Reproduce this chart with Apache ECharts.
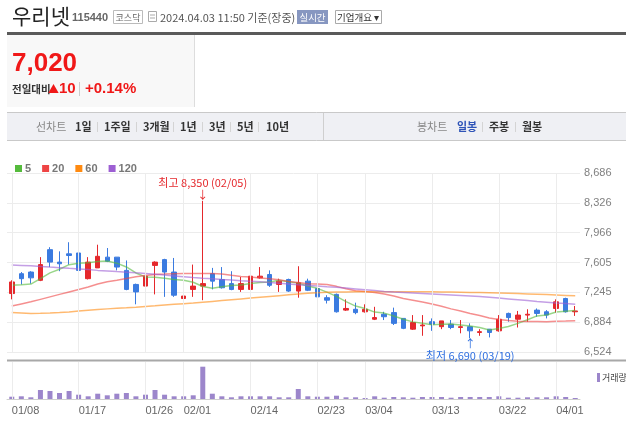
<!DOCTYPE html>
<html><head><meta charset="utf-8">
<script src="https://cdn.jsdelivr.net/npm/echarts@6.0.0/dist/echarts.min.js"></script>
<style>html,body{margin:0;padding:0;background:#fff}#c{width:626px;height:423px}</style>
</head><body><div id="c"></div>
<script>
const dates = ['01/08','01/09','01/10','01/11','01/12','01/15','01/16','01/17','01/18','01/19','01/22','01/23','01/24','01/25','01/26','01/29','01/30','01/31','02/01','02/02','02/05','02/06','02/07','02/08','02/13','02/14','02/15','02/16','02/19','02/20','02/21','02/22','02/23','02/26','02/27','02/28','02/29','03/04','03/05','03/06','03/07','03/08','03/11','03/12','03/13','03/14','03/15','03/18','03/19','03/20','03/21','03/22','03/25','03/26','03/27','03/28','03/29','04/01','04/02','04/03'];
const openP  = [7230,7470,7490,7390,7760,7610,7710,7720,7410,7540, 7670,7670,7510,7340,7320,7570,7640,7490,7170,7280, 7320,7470,7400,7350,7280,7280,7420,7460,7340,7400, 7260,7380,7290,7180,7220,7030,7040,7010,6920,6980, 7000,6930,6800,6840,6890,6830,6860,6820,6830,6760, 6800,6780,6990,6920,6970,7030,7010,7050,7170,7010];
const closeP = [7370,7410,7420,7580,7610,7590,7690,7510,7610,7680, 7620,7550,7280,7250,7440,7610,7490,7210,7200,7320, 7350,7380,7300,7280,7350,7440,7440,7330,7380,7260, 7360,7270,7190,7150,7010,7050,7000,7040,6940,6950, 6870,6810,6880,6850,6860,6900,6820,6830,6780,6770, 6760,6920,6940,6970,6980,6990,6970,7130,7010,7020];
const highP  = [7390,7490,7500,7670,7790,7740,7850,7750,7670,7820, 7780,7670,7630,7350,7610,7620,7650,7660,7280,7580, 8350,7540,7550,7500,7430,7450,7550,7510,7410,7410, 7560,7410,7290,7210,7230,7160,7120,7100,7070,7010, 7060,6930,6970,6970,6930,6900,6910,6910,6870,6800, 6800,6970,7000,7020,7040,7050,7030,7160,7180,7080];
const lowP   = [7160,7340,7350,7380,7550,7500,7580,7430,7400,7540, 7610,7510,7270,7100,7190,7220,7190,7190,7160,7190, 7150,7280,7290,7270,7250,7260,7410,7310,7250,7250, 7180,7260,7160,7110,7000,7020,6980,7000,6910,6910, 6850,6800,6790,6720,6780,6800,6800,6750,6690,6720, 6700,6770,6890,6820,6890,6950,6930,7000,7000,6960];
const volume = [115000,135000,85000,450000,400000,300000,400000,215000,135000,265000, 185000,265000,300000,135000,215000,450000,215000,135000,135000,185000, 1615000,265000,135000,85000,135000,135000,135000,135000,85000,85000, 500000,135000,115000,115000,165000,85000,85000,50000,135000,65000, 100000,85000,65000,100000,100000,100000,65000,100000,100000,100000, 100000,135000,65000,65000,85000,85000,85000,135000,100000,50000];
const ma5   = [7330,7335,7345,7410,7480,7524,7579,7596,7603,7616, 7624,7597,7551,7479,7431,7428,7414,7399,7390,7366, 7315,7294,7312,7328,7334,7352,7365,7370,7390,7373, 7356,7321,7293,7247,7196,7133,7079,7049,7006,6994, 6959,6920,6888,6870,6852,6858,6861,6851,6837,6819, 6790,6809,6832,6870,6913,6960,6970,7008,7016,7024];
const ma20  = [7080,7105,7130,7160,7190,7220,7250,7280,7310,7345, 7372,7392,7413,7432,7449,7461,7465,7470,7472,7473, 7473,7471,7465,7450,7437,7430,7417,7408,7397,7376, 7363,7349,7344,7339,7317,7289,7265,7256,7243,7224, 7200,7171,7150,7128,7104,7077,7045,7020,6990,6965, 6935,6917,6905,6896,6894,6892,6890,6895,6898,6902];
const ma60  = [7000,6995,6990,6992,6995,7000,7008,7018,7028,7038, 7045,7052,7058,7065,7075,7083,7092,7100,7108,7115, 7125,7135,7145,7155,7165,7175,7185,7195,7205,7215, 7225,7233,7240,7245,7248,7250,7251,7251,7251,7251, 7251,7251,7251,7251,7251,7250,7248,7246,7244,7242, 7240,7237,7234,7230,7226,7222,7218,7213,7208,7203];
const ma120 = [7575,7570,7565,7558,7550,7543,7535,7528,7520,7510, 7503,7495,7488,7480,7473,7463,7453,7443,7433,7423, 7415,7408,7400,7393,7386,7380,7372,7364,7355,7345, 7336,7328,7320,7312,7305,7296,7286,7276,7266,7256, 7248,7242,7236,7230,7224,7218,7212,7206,7200,7194, 7185,7175,7165,7155,7145,7135,7126,7117,7110,7102];
const labelDates = ['01/08','01/17','01/26','02/01','02/14','02/23','03/04','03/13','03/22','04/01'];
const priceMin = 6524.1, priceStep = 360.352, priceMax = 8686.2;
const volMax = 1850000;

const fmt = v => Math.round(v).toLocaleString('en-US');
const hiIdx = highP.indexOf(Math.max(...highP));
const loIdx = lowP.indexOf(Math.min(...lowP));
const UP = '#e5282c', DOWN = '#3b7be0';
const KR = "'Noto Sans CJK KR','Noto Sans',sans-serif";
const NUM = "'Liberation Sans',Arial,sans-serif";

const chart = echarts.init(document.getElementById('c'));
const gridLineStyle = {color:'#ececec', width:1, type:'solid'};
const vLines = labelDates.map(d => ({xAxis: d}));

function txt(x, y, text, style) {
  return {type:'text', x, y, style: Object.assign({text, fontFamily: KR, fontSize: 11, fill:'#333', verticalAlign:'middle'}, style), silent:true};
}
function rect(x, y, w, h, style) {
  return {type:'rect', shape:{x, y, width:w, height:h}, style, silent:true};
}
function line(x1, y1, x2, y2, stroke, lw) {
  return {type:'line', shape:{x1, y1, x2, y2}, style:{stroke, lineWidth: lw || 1}, silent:true};
}

const tabItems = [
  ['선차트', 36, '#888', 'normal'], ['1일', 75, '#333', 'bold'], ['1주일', 104, '#333', 'bold'], ['3개월', 143, '#333', 'bold'],
  ['1년', 180, '#333', 'bold'], ['3년', 209, '#333', 'bold'], ['5년', 237, '#333', 'bold'], ['10년', 266, '#333', 'bold'],
  ['봉차트', 417, '#888', 'normal'], ['일봉', 457, '#2f54b8', 'bold'], ['주봉', 489, '#333', 'bold'], ['월봉', 522, '#333', 'bold']
];
const graphics = [
  txt(12, 16, '우리넷', {fontSize: 21, fill:'#222'}),
  txt(72, 18, '115440', {fontSize: 11, fontWeight:'bold', fill:'#666', fontFamily: NUM}),
  rect(113.5, 10.5, 29, 13, {fill:'#fff', stroke:'#bbb', lineWidth:1}),
  txt(128, 17.5, '코스닥', {fontSize: 9, fill:'#666', align:'center'}),
  rect(148.5, 11.5, 8, 10, {fill:'#fff', stroke:'#aaa', lineWidth:1}),
  line(150, 15, 155, 15, '#aaa'), line(150, 18, 155, 18, '#aaa'),
  txt(160, 17.5, '2024.04.03 11:50 기준(장중)', {fontSize: 11, fill:'#555'}),
  rect(297, 10, 31, 14, {fill:'#8797c1'}),
  txt(312.5, 17.5, '실시간', {fontSize: 9.5, fill:'#fff', align:'center'}),
  rect(335.5, 10.5, 46, 13, {fill:'#fff', stroke:'#aaa', lineWidth:1}),
  txt(358, 17.5, '기업개요 ▾', {fontSize: 9.5, fill:'#333', align:'center'}),
  rect(7, 32, 619, 3, {fill:'#5a5a5a'}),
  rect(7, 35, 187, 72, {fill:'#f8f8f8'}),
  line(194.5, 35, 194.5, 107, '#ddd'),
  txt(12, 64, '7,020', {fontSize: 26, fontWeight:'bold', fill:'#f01818', fontFamily: NUM}),
  txt(12, 89, '전일대비', {fontSize: 10.5, fontWeight:'bold', fill:'#333'}),
  txt(48, 89, '▲', {fontSize: 11, fill:'#f01818'}),
  txt(59, 89, '10', {fontSize: 15, fontWeight:'bold', fill:'#f01818', fontFamily: NUM}),
  line(79.5, 82, 79.5, 96, '#ccc'),
  txt(85, 89, '+0.14%', {fontSize: 15, fontWeight:'bold', fill:'#f01818', fontFamily: NUM}),
  rect(7, 112, 619, 29, {fill:'#eff0f4'}),
  line(7, 112.5, 626, 112.5, '#c9c9c9'),
  line(7, 140.5, 626, 140.5, '#c9c9c9'),
  line(323.5, 113, 323.5, 140, '#cfcfcf'),
  line(7, 360.5, 626, 360.5, '#a8a8a8', 2)
];
tabItems.forEach(([t, x, c, w]) => graphics.push(txt(x, 127, t, {fontSize: 11, fill: c, fontWeight: w})));
[97, 136, 173, 202, 230, 258, 482, 515].forEach(x => graphics.push(line(x + 0.5, 122, x + 0.5, 132, '#d4d4d4')));

const maDefs = [['5', ma5, '#55bb3c'], ['20', ma20, '#ee4444'], ['60', ma60, '#ff8a10'], ['120', ma120, '#9d5fd3']];

const option = {
  animation: false,
  graphic: graphics,
  legend: [
    {data: ['5','20','60','120'], left: 10, top: 158, icon: 'rect', itemWidth: 7, itemHeight: 7, itemGap: 11,
     textStyle: {fontSize: 11, fontWeight: 'bold', color: '#777', fontFamily: NUM, padding: [0,0,0,-2]}},
    {data: ['거래량'], left: 592, top: 368, icon: 'rect', itemWidth: 3, itemHeight: 9, itemGap: 2,
     textStyle: {fontSize: 9, color: '#444', fontFamily: KR, padding: [0,0,0,-3]}}
  ],
  grid: [
    {left: 7, right: 46, top: 173, height: 179},
    {left: 7, right: 46, top: 362, height: 37}
  ],
  xAxis: [
    {type:'category', gridIndex:0, data: dates, boundaryGap: true, axisLine:{show:false}, axisTick:{show:false}, axisLabel:{show:false}, splitLine:{show:false}},
    {type:'category', gridIndex:1, data: dates, boundaryGap: true, axisLine:{show:true, lineStyle:{color:'#cfcfcf'}}, axisTick:{show:false},
     axisLabel:{show:true, interval: (i, v) => labelDates.includes(v), align:'left', margin: 6, color:'#666', fontSize: 11, fontFamily: NUM},
     splitLine:{show:false}}
  ],
  yAxis: [
    {type:'value', gridIndex:0, position:'right', min: priceMin, max: priceMax, interval: priceStep, scale: true,
     axisLine:{show:false}, axisTick:{show:false},
     axisLabel:{formatter: v => fmt(v), color:'#808080', fontSize: 11, margin: 4, fontFamily: NUM},
     splitLine:{show:true, lineStyle: gridLineStyle}},
    {type:'value', gridIndex:1, min: 0, max: volMax, show: false, splitLine:{show:false}}
  ],
  series: [
    {type:'line', name:'grid0', xAxisIndex:0, yAxisIndex:0, data: [], z: 0, silent: true,
     markLine:{silent:true, symbol:['none','none'], label:{show:false}, lineStyle: gridLineStyle, data: vLines}},
    {type:'line', name:'grid1', xAxisIndex:1, yAxisIndex:1, data: [], z: 0, silent: true,
     markLine:{silent:true, symbol:['none','none'], label:{show:false}, lineStyle: gridLineStyle, data: vLines}},
    {type:'candlestick', name:'price', xAxisIndex:0, yAxisIndex:0, z: 3, barWidth: 5,
     data: dates.map((d, i) => [openP[i], closeP[i], lowP[i], highP[i]]),
     itemStyle:{color: UP, color0: DOWN, borderColor: UP, borderColor0: DOWN, borderWidth: 1},
     markPoint:{symbol:'circle', symbolSize: 0, silent: true,
       data: [
         {coord: [dates[hiIdx], highP[hiIdx]], itemStyle:{color:'rgba(0,0,0,0)'},
          label:{show:true, position:'top', distance: 0, color: UP, fontSize: 11, lineHeight: 12, fontFamily: KR,
                 formatter: '최고 ' + fmt(highP[hiIdx]) + ' (' + dates[hiIdx] + ')\n↓'}},
         {coord: [dates[loIdx], lowP[loIdx]], itemStyle:{color:'rgba(0,0,0,0)'},
          label:{show:true, position:'bottom', distance: 0, color: '#2f6fe0', fontSize: 11, lineHeight: 12, fontFamily: KR,
                 formatter: '↑\n최저 ' + fmt(lowP[loIdx]) + ' (' + dates[loIdx] + ')'}}
       ]}},
    ...maDefs.map(([n, arr, c]) => ({type:'line', name: n, xAxisIndex:0, yAxisIndex:0, data: arr, z: 4,
      symbol:'none', smooth: false, color: c, lineStyle:{color: c, width: 1.5, opacity: 0.6}})),
    {type:'bar', name:'거래량', xAxisIndex:1, yAxisIndex:1, data: volume, barWidth: 5, z: 3, color:'#9c86cb',
     itemStyle:{color:'#9c86cb'}}
  ]
};
chart.setOption(option);
</script></body></html>
